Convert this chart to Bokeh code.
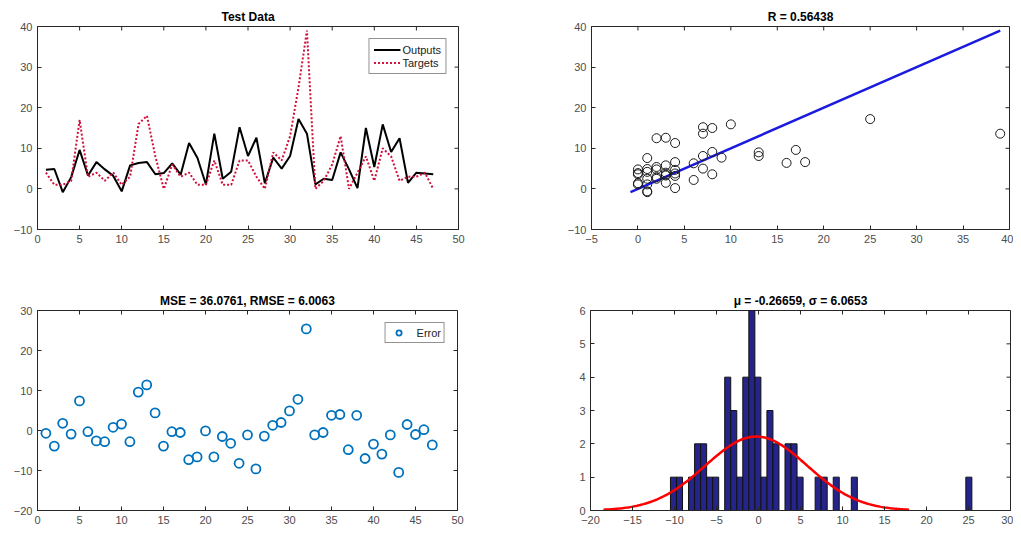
import numpy as np
from bokeh.plotting import figure
from bokeh.layouts import column, row
from bokeh.models import FixedTicker, Legend, LegendItem, Range1d
from bokeh.embed import file_html
from bokeh.resources import INLINE

# ---------------- data ----------------
sample_index = list(range(1, 48))
targets = [4, 1, 1, 2, 17, 3, 4, 2, 4, 1, 3, 16, 18, 8, 0, 6, 3, 4, 1, 1,
           7, 1, 1, 7, 7, 3, 0, 9, 7, 13, 25, 39, 0, 2, 6, 13, 0, 4, 8, 2,
           10, 8, 2, 3, 3, 4, 0]
outputs = [4.7, 4.9, -0.8, 2.9, 9.6, 3.3, 6.6, 4.8, 3.2, -0.6, 5.8, 6.4, 6.6, 3.6, 3.9, 6.3, 3.5, 11.3, 7.6, 1.1,
           13.6, 2.5, 4.2, 15.2, 8.1, 12.6, 1.4, 7.7, 5.0, 8.1, 17.2, 13.6, 1.1, 2.5, 2.2, 9.0, 4.8, 0.2, 15.0, 5.4,
           15.9, 9.1, 12.48, 1.5, 4.0, 3.8, 3.6]
# histogram of the errors (50 bins between min and max error)
hist_counts = [1, 1, 0, 1, 2, 2, 1, 1, 0, 4, 3, 1, 4, 6, 4, 1, 3, 2, 0, 2,
               2, 1, 0, 0, 1, 1, 0, 1, 0, 0, 1, 0, 0, 0, 0, 0, 0, 0, 0, 0,
               0, 0, 0, 0, 0, 0, 0, 0, 0, 1]
err_mu = -0.26659
err_sigma = 6.0653
r_value = 0.56438
mse_value = 36.0761
rmse_value = 6.0063

x_ticks_50 = [0, 5, 10, 15, 20, 25, 30, 35, 40, 45, 50]
y_ticks_tl = [-10, 0, 10, 20, 30, 40]
x_ticks_tr = [-5, 0, 5, 10, 15, 20, 25, 30, 35, 40]
y_ticks_bl = [-20, -10, 0, 10, 20, 30]
x_ticks_br = [-20, -15, -10, -5, 0, 5, 10, 15, 20, 25, 30]
y_ticks_br = [0, 1, 2, 3, 4, 5, 6]

targets_a = np.array(targets, dtype=float)
outputs_a = np.array(outputs, dtype=float)
errors_a = targets_a - outputs_a

FONT = "Liberation Sans"
AX = "#262626"
LBL = "#4d4d4d"
TICK = 4


def make_fig(w, h, xr, yr, xt, yt, bl, br, bt, bb, title):
    p = figure(width=w, height=h, x_range=Range1d(*xr), y_range=Range1d(*yr),
               output_backend="svg", toolbar_location=None,
               min_border_left=bl, min_border_right=br,
               min_border_top=bt, min_border_bottom=bb)
    p.title.text = title
    p.title.align = "center"
    p.title.text_font = FONT
    p.title.text_font_size = "12px"
    p.title.text_font_style = "bold"
    p.title.text_color = "#000000"
    p.title.standoff = 6
    p.xgrid.visible = False
    p.ygrid.visible = False
    p.outline_line_color = AX
    p.outline_line_width = 1
    p.outline_line_alpha = 1
    p.background_fill_color = "white"
    p.border_fill_color = "white"
    p.xaxis.ticker = FixedTicker(ticks=xt)
    p.yaxis.ticker = FixedTicker(ticks=yt)
    for ax in list(p.xaxis) + list(p.yaxis):
        ax.axis_line_color = AX
        ax.major_tick_line_color = AX
        ax.major_tick_in = TICK
        ax.major_tick_out = 0
        ax.minor_tick_line_color = None
        ax.major_label_text_font = FONT
        ax.major_label_text_font_size = "11px"
        ax.major_label_text_color = LBL
        ax.major_label_standoff = 5
    # mirrored ticks on the top and right edges of the box (MATLAB style)
    fw = w - bl - br
    fh = h - bt - bb
    dx = TICK * (xr[1] - xr[0]) / fw
    dy = TICK * (yr[1] - yr[0]) / fh
    p.segment(x0=xt, y0=[yr[1]] * len(xt), x1=xt, y1=[yr[1] - dy] * len(xt),
              line_color=AX, line_width=1)
    p.segment(x0=[xr[1]] * len(yt), y0=yt, x1=[xr[1] - dx] * len(yt), y1=yt,
              line_color=AX, line_width=1)
    return p


def style_legend(lg):
    lg.label_text_font = FONT
    lg.label_text_font_size = "11px"
    lg.label_text_color = "#222222"
    lg.border_line_color = AX
    lg.border_line_width = 1
    lg.background_fill_alpha = 1
    lg.margin = 12
    lg.padding = 4
    lg.spacing = 0
    lg.label_height = 13
    lg.glyph_height = 13
    lg.label_standoff = 2


# layout: frames at x 37-458 / 591-1009, y 26-229 / 310-511
TOP_H = 268
BOT_H = 258
LEFT_W = 478
RIGHT_W = 535

# ---------------- top-left: test data ----------------
p1 = make_fig(LEFT_W, TOP_H, (0, 50), (-10, 40), x_ticks_50, y_ticks_tl, 37, 20, 26, 39, "Test Data")
r_out = p1.line(sample_index, outputs, line_color="#000000", line_width=2)
r_tar = p1.line(sample_index, targets, line_color="#d0103c", line_width=2, line_dash="2 2")
lg1 = Legend(items=[LegendItem(label="Outputs", renderers=[r_out]),
                    LegendItem(label="Targets", renderers=[r_tar])],
             location="top_right", glyph_width=27)
style_legend(lg1)
p1.add_layout(lg1, "center")

# ---------------- top-right: regression ----------------
p2 = make_fig(RIGHT_W, TOP_H, (-5, 40), (-10, 40), x_ticks_tr, y_ticks_tl, 113, 4, 26, 39,
              "R = %s" % r_value)
lo = min(targets_a.min(), outputs_a.min())
hi = max(targets_a.max(), outputs_a.max())
p2.line([lo, hi], [lo, hi], line_color="#1a1ae0", line_width=2.5)
p2.scatter(targets, outputs, marker="circle", size=9, fill_color=None,
           line_color="#1a1a1a", line_width=1)

# ---------------- bottom-left: errors ----------------
p3 = make_fig(LEFT_W, BOT_H, (0, 50), (-20, 30), x_ticks_50, y_ticks_bl, 37, 21, 42, 15,
              "MSE = %s, RMSE = %s" % (mse_value, rmse_value))
r_err = p3.scatter(sample_index, errors_a, marker="circle", size=9, fill_color=None,
                   line_color="#0072BD", line_width=1.8)
lg3 = Legend(items=[LegendItem(label="Error", renderers=[r_err])],
             location="top_right", glyph_width=20)
style_legend(lg3)
lg3.label_standoff = 8
lg3.padding = 3
p3.add_layout(lg3, "center")

# ---------------- bottom-right: histogram ----------------
p4 = make_fig(RIGHT_W, BOT_H, (-20, 30), (0, 6), x_ticks_br, y_ticks_br, 112, 3, 42, 15,
              "\u03bc = %s, \u03c3 = %s" % (err_mu, err_sigma))
edges = np.linspace(errors_a.min(), errors_a.max(), len(hist_counts) + 1)
p4.quad(left=edges[:-1], right=edges[1:], bottom=0, top=hist_counts,
        fill_color="#24248a", line_color="#111111", line_width=1)
bw = edges[1] - edges[0]
n = float(sum(hist_counts))
xc = np.linspace(err_mu - 3 * err_sigma, err_mu + 3 * err_sigma, 200)
yc = n * bw * np.exp(-0.5 * ((xc - err_mu) / err_sigma) ** 2) / (err_sigma * np.sqrt(2 * np.pi))
p4.line(xc, yc, line_color="#ff0000", line_width=2.5)

layout = column(row(p1, p2), row(p3, p4))
open("out.html", "w").write(file_html(layout, INLINE))
